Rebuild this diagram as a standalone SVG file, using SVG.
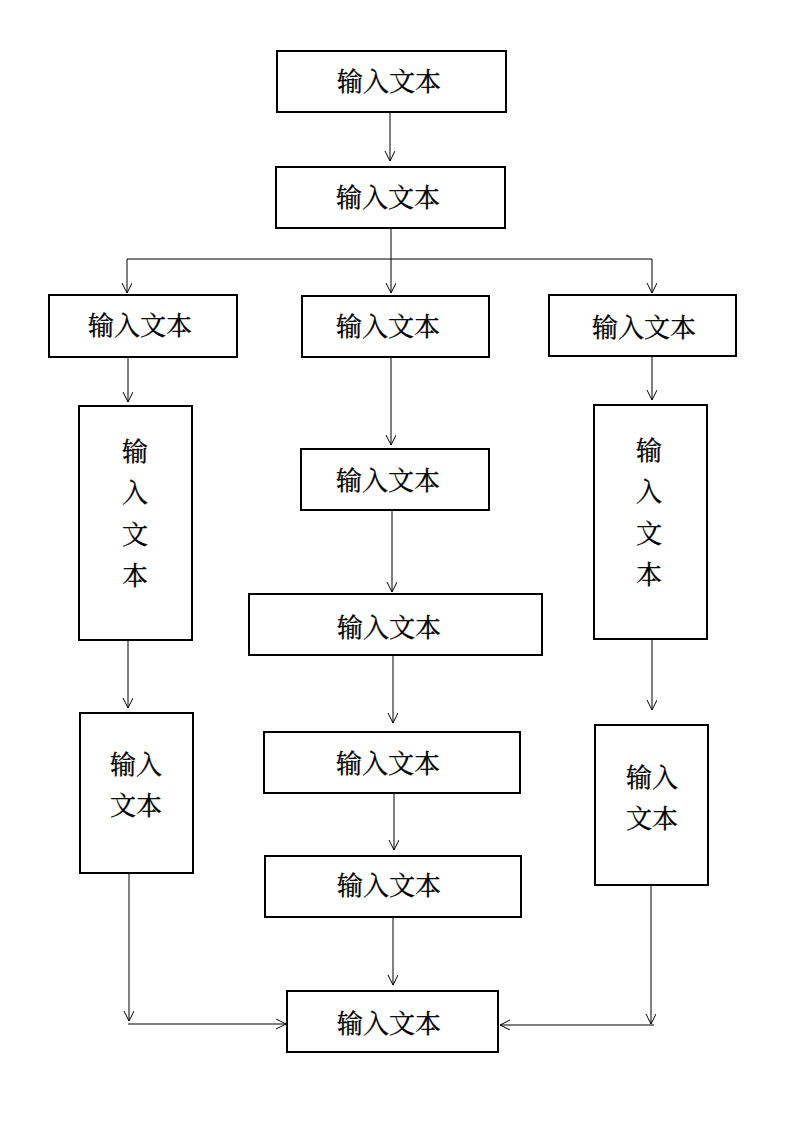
<svg xmlns="http://www.w3.org/2000/svg" width="793" height="1122" viewBox="0 0 793 1122">
<style>
.box{fill:#fff;stroke:#000;stroke-width:2}
.t{font-family:"Noto Serif CJK SC","Noto Sans CJK SC",serif;font-size:26px;fill:#000;stroke:#000;stroke-width:0.3;text-anchor:middle;dominant-baseline:central}
.c{fill:none;stroke:#000;stroke-width:1}
</style>
<defs>
<marker id="a" markerWidth="12" markerHeight="12" refX="10" refY="5" orient="auto" markerUnits="userSpaceOnUse">
<path d="M0,0 L10,5 L0,10" fill="none" stroke="#000" stroke-width="1"/>
</marker>
</defs>
<rect width="793" height="1122" fill="#fff"/>
<g id="connectors">
<line class="c" x1="390" y1="112" x2="390" y2="161" marker-end="url(#a)"/>
<line class="c" x1="391" y1="228" x2="391" y2="293" marker-end="url(#a)"/>
<line class="c" x1="127" y1="259" x2="652" y2="259"/>
<line class="c" x1="127" y1="259" x2="127" y2="293" marker-end="url(#a)"/>
<line class="c" x1="652" y1="259" x2="652" y2="293" marker-end="url(#a)"/>
<line class="c" x1="128" y1="357" x2="128" y2="402" marker-end="url(#a)"/>
<line class="c" x1="652" y1="356" x2="652" y2="400" marker-end="url(#a)"/>
<line class="c" x1="391" y1="357" x2="391" y2="445" marker-end="url(#a)"/>
<line class="c" x1="392" y1="510" x2="392" y2="592" marker-end="url(#a)"/>
<line class="c" x1="393" y1="655" x2="393" y2="723" marker-end="url(#a)"/>
<line class="c" x1="394" y1="793" x2="394" y2="850" marker-end="url(#a)"/>
<line class="c" x1="393" y1="917" x2="393" y2="985" marker-end="url(#a)"/>
<line class="c" x1="128" y1="640" x2="128" y2="708" marker-end="url(#a)"/>
<line class="c" x1="652" y1="639" x2="652" y2="710" marker-end="url(#a)"/>
<line class="c" x1="129" y1="873" x2="129" y2="1021" marker-end="url(#a)"/>
<line class="c" x1="128" y1="1024" x2="286" y2="1024" marker-end="url(#a)"/>
<line class="c" x1="651" y1="885" x2="651" y2="1024" marker-end="url(#a)"/>
<line class="c" x1="654" y1="1025" x2="500" y2="1025" marker-end="url(#a)"/>
</g>
<g id="n1"><rect class="box" x="277" y="51" width="229" height="61"/><text class="t" x="389" y="79">输入文本</text></g>
<g id="n2"><rect class="box" x="276" y="167" width="229" height="61"/><text class="t" x="388" y="195">输入文本</text></g>
<g id="n3"><rect class="box" x="49" y="295" width="188" height="62"/><text class="t" x="140" y="323">输入文本</text></g>
<g id="n4"><rect class="box" x="302" y="296" width="187" height="61"/><text class="t" x="388" y="324">输入文本</text></g>
<g id="n5"><rect class="box" x="549" y="295" width="187" height="61"/><text class="t" x="644" y="325">输入文本</text></g>
<g id="n6"><rect class="box" x="79" y="406" width="113" height="234"/>
<text class="t" x="135" y="449">输</text><text class="t" x="135" y="490">入</text><text class="t" x="135" y="532">文</text><text class="t" x="135" y="573">本</text></g>
<g id="n7"><rect class="box" x="594" y="405" width="113" height="234"/>
<text class="t" x="649" y="448">输</text><text class="t" x="649" y="489">入</text><text class="t" x="649" y="531">文</text><text class="t" x="649" y="572">本</text></g>
<g id="n8"><rect class="box" x="301" y="449" width="188" height="61"/><text class="t" x="388" y="478">输入文本</text></g>
<g id="n9"><rect class="box" x="249" y="594" width="293" height="61"/><text class="t" x="389" y="625">输入文本</text></g>
<g id="n10"><rect class="box" x="264" y="732" width="256" height="61"/><text class="t" x="388" y="761">输入文本</text></g>
<g id="n11"><rect class="box" x="265" y="856" width="256" height="61"/><text class="t" x="389" y="883">输入文本</text></g>
<g id="n12"><rect class="box" x="80" y="713" width="113" height="160"/>
<text class="t" x="136" y="762">输入</text><text class="t" x="136" y="803">文本</text></g>
<g id="n13"><rect class="box" x="595" y="725" width="113" height="160"/>
<text class="t" x="652" y="775">输入</text><text class="t" x="652" y="816">文本</text></g>
<g id="n14"><rect class="box" x="287" y="991" width="211" height="61"/><text class="t" x="389" y="1021">输入文本</text></g>
</svg>
